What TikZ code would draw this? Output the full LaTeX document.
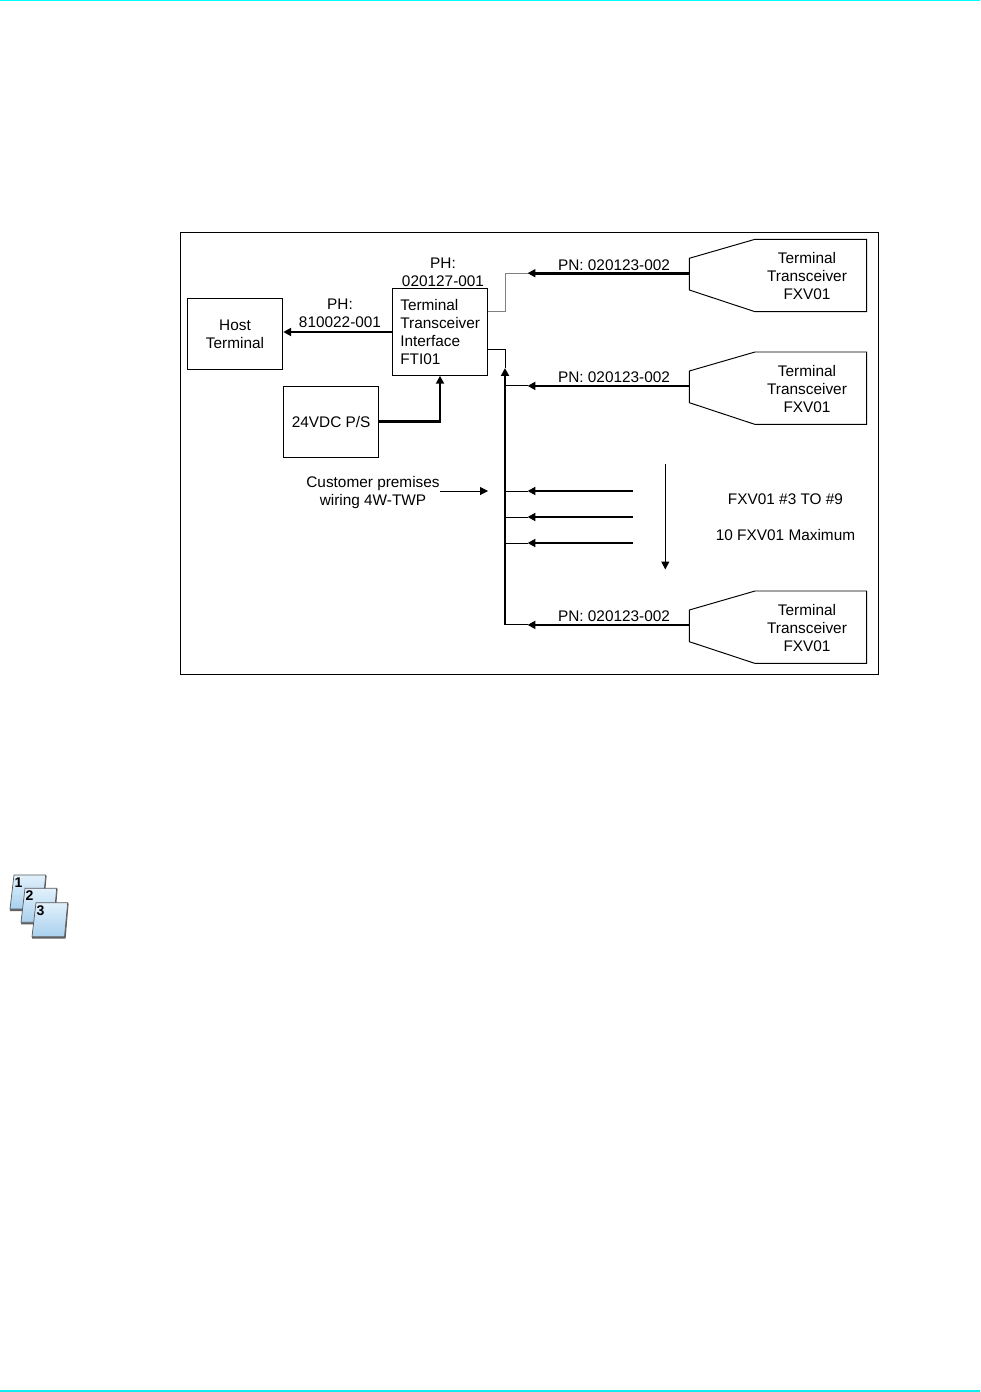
\documentclass[tikz,border=0pt]{standalone}
\usepackage{fontspec}
\setmainfont{Liberation Sans}
\usetikzlibrary{arrows.meta}
\definecolor{pageblue}{RGB}{168,208,238}
\definecolor{pagepale}{RGB}{226,241,252}
\definecolor{rulecyan}{RGB}{0,255,255}
\tikzset{
  txt/.style={inner sep=0pt,align=center,font=\fontsize{8.75}{10.2}\selectfont},
  box/.style={draw,line width=0.55pt,inner sep=0pt,align=center,font=\fontsize{8.75}{10.2}\selectfont},
  wire/.style={line width=0.55pt},
  bold/.style={line width=1.5pt},
  page/.style={draw=gray!70!black,line width=0.4pt,top color=pagepale,bottom color=pageblue},
  pagenum/.style={inner sep=0pt,font=\fontsize{8}{9}\selectfont\bfseries}
}
\begin{document}
\begin{tikzpicture}[x=0.02cm,y=-0.02cm,line join=miter,>={Triangle[length=4.5pt,width=4.5pt]}]
  \useasboundingbox (0,0) rectangle (980,1392);
  \fill[white] (0,0) rectangle (980,1392);
  \draw[rulecyan,line width=0.8pt] (0,0.7) -- (980,0.7);
  \draw[rulecyan!85!gray,line width=0.6pt] (0,1391) -- (980,1391);
  \draw[wire] (180.3,232) rectangle (878.8,674);
  \node[box,minimum width=1.91cm,minimum height=1.42cm] (host) at (235,334) {Host\\Terminal};
  \node[box,minimum width=1.9cm,minimum height=1.74cm,align=left,text width=1.58cm] (fti) at (439.8,331.8) {Terminal\\Transceiver\\Interface\\FTI01};
  \node[box,minimum width=1.9cm,minimum height=1.42cm] (psu) at (331.2,421.8) {24VDC P/S};
  \node[txt] (phhost) at (340,313.5) {PH:\\810022-001};
  \node[txt] (phfti) at (443,272.5) {PH:\\020127-001};
  \node[txt] (wiring) at (373,492.5) {Customer premises\\wiring 4W-TWP};
  \node[txt] (fxvrange) at (785.5,499) {FXV01 \#3 TO \#9};
  \node[txt] (fxvmax) at (785.5,535) {10 FXV01 Maximum};
  \foreach \n/\yy in {a/0,b/112.7,c/351.7}{
    \draw[wire] (689.3,258.3+\yy) -- (755,239.3+\yy) -- (866.7,239.3+\yy) -- (866.7,311.7+\yy) -- (755,311.7+\yy) -- (689.3,290+\yy) -- cycle;
    \coordinate (fxv\n) at (689.3,273.2+\yy);
    \coordinate (tip\n) at (527.5,273.2+\yy);
    \coordinate (bus\n) at (505,273.2+\yy);
    \node[txt] (term\n) at (807,276+\yy) {Terminal\\Transceiver\\FXV01};
    \node[txt] (pn\n) at (614,265+\yy) {PN: 020123-002};
  }
  \foreach \n/\yy in {d/491,e/517,f/543}{
    \coordinate (fxv\n) at (633,\yy);
    \coordinate (tip\n) at (527.5,\yy);
    \coordinate (bus\n) at (505,\yy);
  }
  \foreach \n in {b,c,d,e,f}{
    \draw[wire] (bus\n) -- (tip\n);
    \draw[->,bold] (fxv\n) -- (tip\n);
  }
  \draw[wire,gray] (fti.east |- 0,311.3) -| (busa) -- (tipa);
  \draw[->,bold] (fxva) -- (tipa);
  \coordinate (bustop) at (505,368);
  \draw[wire] (fti.east |- 0,349) -| (bustop);
  \draw[->,bold] (busc) -- (bustop);
  \draw[->,bold] (fti.west |- 0,332) -- (host.east |- 0,332);
  \draw[->,bold] (psu.east) -| (fti.south -| 440,0);
  \coordinate (wiretip) at (488,491);
  \draw[->,wire] (wiring.east |- wiretip) -- (wiretip);
  \coordinate (downtop) at (665.3,464);
  \coordinate (downtip) at (665.3,569.5);
  \draw[->,wire] (downtop) -- (downtip);
  \foreach \n/\xa/\ya in {1/0/0,2/11/13.3,3/22/27.7}{
    \fill[gray!75!black] (10+\xa,911+\ya) -- (43.6+\xa,911+\ya) -- (46.6+\xa,876+\ya) -- (45.7+\xa,875+\ya) -- (42.5+\xa,909+\ya) -- (10+\xa,909+\ya) -- cycle;
    \path[page] (14+\xa,875+\ya) -- (45.7+\xa,875+\ya) -- (42.5+\xa,909+\ya) -- (10+\xa,909+\ya) -- cycle;
    \node[pagenum] (num\n) at (18.5+\xa,882.5+\ya) {\n};
  }
\end{tikzpicture}
\end{document}
